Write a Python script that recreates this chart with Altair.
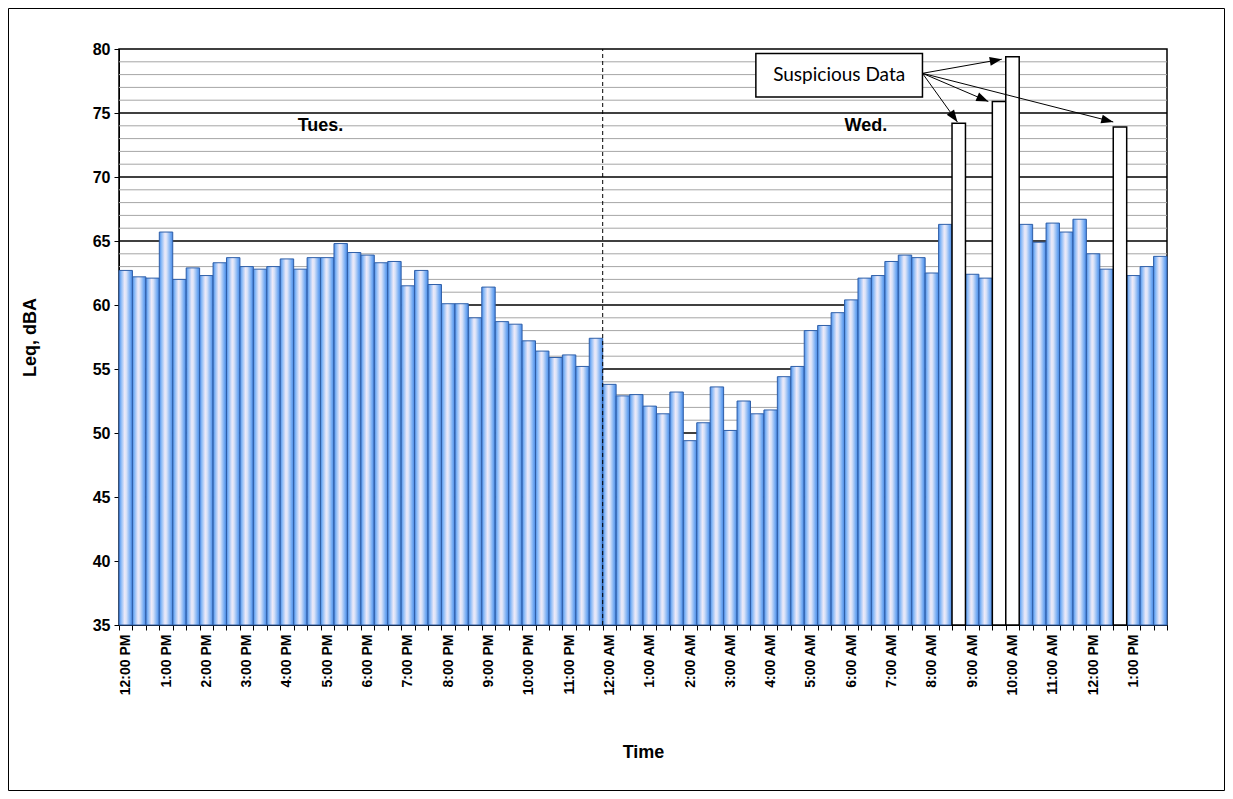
import json
import math
import altair as alt
import pandas as pd

# ---------------- data ----------------
hour_labels = [
    "12:00 PM", "1:00 PM", "2:00 PM", "3:00 PM", "4:00 PM", "5:00 PM",
    "6:00 PM", "7:00 PM", "8:00 PM", "9:00 PM", "10:00 PM", "11:00 PM",
    "12:00 AM", "1:00 AM", "2:00 AM", "3:00 AM", "4:00 AM", "5:00 AM",
    "6:00 AM", "7:00 AM", "8:00 AM", "9:00 AM", "10:00 AM", "11:00 AM",
    "12:00 PM", "1:00 PM",
]

# 20-minute Leq readings, starting Tuesday 12:00 PM
leq_values = [
    62.7, 62.2, 62.1, 65.7, 62.0, 62.9, 62.3, 63.3, 63.7, 63.0,
    62.8, 63.0, 63.6, 62.8, 63.7, 63.7, 64.8, 64.1, 63.9, 63.3,
    63.4, 61.5, 62.7, 61.6, 60.1, 60.1, 59.0, 61.4, 58.7, 58.5,
    57.2, 56.4, 55.9, 56.1, 55.2, 57.4, 53.8, 52.9, 53.0, 52.1,
    51.5, 53.2, 49.4, 50.8, 53.6, 50.2, 52.5, 51.5, 51.8, 54.4,
    55.2, 58.0, 58.4, 59.4, 60.4, 62.1, 62.3, 63.4, 63.9, 63.7,
    62.5, 66.3, 74.2, 62.4, 62.1, 75.9, 79.4, 66.3, 64.9, 66.4,
    65.7, 66.7, 64.0, 62.8, 73.9, 62.3, 63.0, 63.8,
]
suspicious_index = [62, 65, 66, 74]

y_tick_values = [35, 40, 45, 50, 55, 60, 65, 70, 75, 80]
major_levels = [40, 45, 50, 55, 60, 65, 70, 75]
minor_levels = [v for v in range(36, 80) if v % 5 != 0]

day_names = ["Tues.", "Wed."]
day_pos = [13.3, 54.0]
day_level = [74.0, 74.0]

midnight_index = [36]

callout_label = ["Suspicious Data"]
callout_x = [47.4, 59.8]
callout_y = [76.25, 79.65]
arrow_from = [59.8, 78.1]
arrow_tip_x = [62.4, 64.7, 65.7, 74.0]
arrow_tip_y = [74.3, 75.9, 79.2, 74.3]

# ---------------- layout ----------------
W, H = 1048, 576
N = len(leq_values)
Y0, Y1 = 35, 80
PAD = {"left": 111, "top": 41, "right": 58, "bottom": 166}

df_bars = pd.DataFrame({
    "start": list(range(N)),
    "end": [i + 1 for i in range(N)],
    "leq": leq_values,
    "sus": [i in suspicious_index for i in range(N)],
})
normal = df_bars[~df_bars["sus"]]
susp = df_bars[df_bars["sus"]]

x_scale = alt.Scale(domain=[0, N], nice=False, zero=False)
y_scale = alt.Scale(domain=[Y0, Y1], nice=False, zero=False)

label_expr = (
    f"(datum.value % 3 == 0 && datum.value < {N}) ? "
    f"{json.dumps(hour_labels)}[datum.value / 3] : ''"
)

x_axis = alt.Axis(
    values=list(range(N + 1)), labelExpr=label_expr, labelAngle=270,
    labelAlign="right", labelBaseline="middle", labelOffset=W / N / 2,
    labelOverlap=False, labelFlush=False, labelFontSize=14,
    labelFontWeight="bold", labelPadding=4, tickSize=5, grid=False,
    title="Time", titleFontSize=18, titleFontWeight="bold", titlePadding=48,
)
y_axis = alt.Axis(
    values=y_tick_values, grid=False, tickSize=5, labelFontSize=16,
    labelFontWeight="bold", labelPadding=4, title="Leq, dBA",
    titleFontSize=18, titleFontWeight="bold", titlePadding=53,
)


def X(field):
    return alt.X(field, scale=x_scale, axis=x_axis)


def Y(field):
    return alt.Y(field, scale=y_scale, axis=y_axis)


bar_gradient = alt.Gradient(
    gradient="linear", x1=0, x2=1, y1=0, y2=0,
    stops=[
        alt.GradientStop(color="#4A8AE6", offset=0.0),
        alt.GradientStop(color="#86B8F6", offset=0.15),
        alt.GradientStop(color="#EEEAF8", offset=0.42),
        alt.GradientStop(color="#D8E2F8", offset=0.55),
        alt.GradientStop(color="#78AEF4", offset=0.82),
        alt.GradientStop(color="#4888E4", offset=1.0),
    ],
)

minor = alt.Chart(pd.DataFrame({"lvl": minor_levels})).mark_rule(
    color="#A6A6A6", strokeWidth=1
).encode(y=Y("lvl:Q"))

major = alt.Chart(pd.DataFrame({"lvl": major_levels})).mark_rule(
    color="black", strokeWidth=1.5
).encode(y=Y("lvl:Q"))

bars = alt.Chart(normal).mark_bar(
    fill=bar_gradient, stroke="#2F5FA8", strokeWidth=1
).encode(
    x=X("start:Q"), x2="end:Q",
    y=Y("leq:Q"), y2=alt.datum(Y0),
)

sus_bars = alt.Chart(susp).mark_bar(
    fill="white", stroke="black", strokeWidth=1.5
).encode(
    x=X("start:Q"), x2="end:Q",
    y=Y("leq:Q"), y2=alt.datum(Y0),
)

midnight = alt.Chart(pd.DataFrame({"m": midnight_index})).mark_rule(
    color="black", strokeWidth=1, strokeDash=[4, 3]
).encode(
    x=X("m:Q"), y=alt.datum(Y0), y2=alt.datum(Y1),
)

days = alt.Chart(pd.DataFrame({"name": day_names, "x": day_pos, "y": day_level})).mark_text(
    font="Liberation Sans", fontSize=18, fontWeight="bold", align="left",
    baseline="middle", color="black",
).encode(x=X("x:Q"), y=Y("y:Q"), text="name:N")

box = alt.Chart(pd.DataFrame({
    "x": [callout_x[0]], "x2": [callout_x[1]],
    "y": [callout_y[0]], "y2": [callout_y[1]],
})).mark_rect(fill="white", stroke="black", strokeWidth=1.5).encode(
    x=X("x:Q"), x2="x2:Q", y=Y("y:Q"), y2="y2:Q",
)

box_text = alt.Chart(pd.DataFrame({
    "t": callout_label,
    "x": [(callout_x[0] + callout_x[1]) / 2],
    "y": [(callout_y[0] + callout_y[1]) / 2],
})).mark_text(font="Lato", fontSize=19, align="center", baseline="middle",
              color="black").encode(x=X("x:Q"), y=Y("y:Q"), text="t:N")

px_x = W / N
px_y = H / (Y1 - Y0)
angles = []
for tx, ty in zip(arrow_tip_x, arrow_tip_y):
    dx = (tx - arrow_from[0]) * px_x
    dy = -(ty - arrow_from[1]) * px_y
    angles.append(math.degrees(math.atan2(dy, dx)) % 360)

df_arrows = pd.DataFrame({
    "x0": [arrow_from[0]] * len(arrow_tip_x),
    "y0": [arrow_from[1]] * len(arrow_tip_x),
    "tx": arrow_tip_x, "ty": arrow_tip_y, "ang": angles,
})

arrow_lines = alt.Chart(df_arrows).mark_rule(color="black", strokeWidth=1).encode(
    x=X("x0:Q"), x2="tx:Q", y=Y("y0:Q"), y2="ty:Q",
)

arrow_heads = alt.Chart(df_arrows).mark_point(
    shape="M0,0L-2,-0.75L-2,0.75Z", filled=True, color="black",
    size=144, opacity=1,
).encode(
    x=X("tx:Q"), y=Y("ty:Q"),
    angle=alt.Angle("ang:Q", scale=None),
)

frame = alt.Chart(pd.DataFrame({"k": [0]})).mark_rect(
    fillOpacity=0, stroke="black", strokeWidth=1
).encode(
    x=alt.value(-PAD["left"] + 0.5), x2=alt.value(W + PAD["right"] - 0.5),
    y=alt.value(-PAD["top"] + 0.5), y2=alt.value(H + PAD["bottom"] - 0.5),
)

chart = alt.layer(
    minor, major, bars, sus_bars, midnight, days, box, box_text,
    arrow_lines, arrow_heads, frame,
).properties(
    width=W, height=H,
    autosize=alt.AutoSizeParams(type="none"),
    padding=PAD,
    background="white",
).configure_view(
    stroke="black", strokeWidth=1.5,
).configure_axis(
    domainColor="black", domainWidth=1, tickColor="black",
    labelColor="black", titleColor="black",
    labelFont="Liberation Sans", titleFont="Liberation Sans",
)

chart.save("out.html", embed_options={"renderer": "svg", "actions": False})
